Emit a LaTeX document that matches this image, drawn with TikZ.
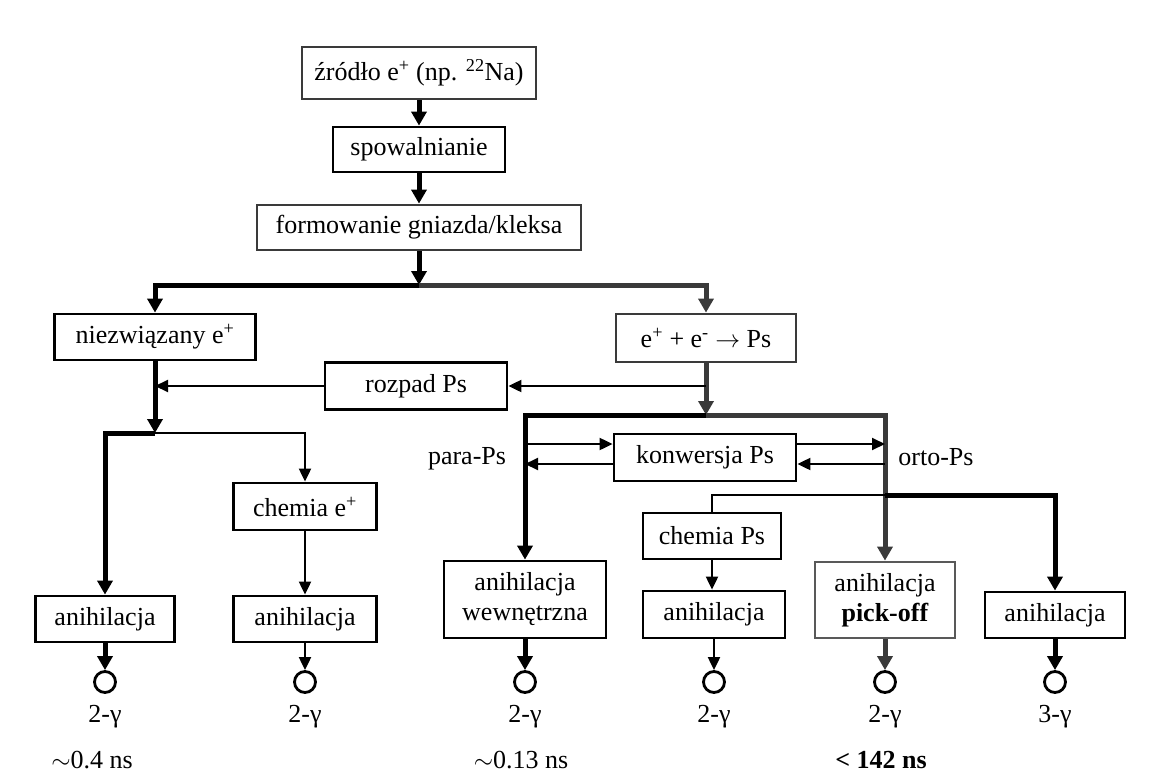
\documentclass[tikz,border=0pt]{standalone}
\usepackage{fontspec}
\setmainfont{Liberation Serif}
\usetikzlibrary{arrows.meta, positioning}
\definecolor{scangray}{HTML}{3A3A3A}

\tikzset{
  txt/.style={font=\fontsize{26}{30}\selectfont},
  box/.style={txt, draw, line width=2.8pt, inner sep=0pt, minimum height=47pt, align=center},
  thinflow/.style={line width=2pt, -{Triangle[length=13pt,width=12pt]}},
  thickflow/.style={line width=5pt, -{Triangle[length=14pt,width=15pt]}},
  grayflow/.style={thickflow, scangray},
  photon/.style={circle, draw, line width=2.8pt, minimum size=21pt, inner sep=0pt}
}

\begin{document}
\begin{tikzpicture}[x=1pt, y=-1pt]
\useasboundingbox (0,0) rectangle (1163,782);

% glowny lancuch
\node[box, draw=scangray, minimum width=234pt, minimum height=52pt] (src) at (419,73) {źródło e\textsuperscript{+} (np. \textsuperscript{22}Na)};
\node[box, minimum width=172pt, minimum height=45pt] (slow) at (419,149.5) {spowalnianie};
\node[box, draw=scangray, minimum width=324pt, minimum height=45pt] (spur) at (419,227.5) {formowanie gniazda/kleksa};

\node[box, minimum width=201pt, minimum height=46pt] (free) at (155,337) {niezwiązany e\textsuperscript{+}};
\node[box, draw=scangray, minimum width=180pt, minimum height=48pt] (psform) at (706,338) {e\textsuperscript{+} + e\textsuperscript{-} $\rightarrow$ Ps};
\node[box, minimum width=182pt] (decay) at (416,386) {rozpad Ps};
\node[box, minimum width=182pt] (conv) at (705,457.5) {konwersja Ps};
\node[txt] (para) at (467,459) {para-Ps};
\node[txt] (ortho) at (936,457) {orto-Ps};

\node[box, minimum width=143pt] (chemE) at (305,506.5) {chemia e\textsuperscript{+}};
\node[box, minimum width=138pt, minimum height=46pt] (chemPs) at (712,536) {chemia Ps};

% anihilacje
\node[box, minimum width=139pt, minimum height=46pt] (ann1) at (105,619) {anihilacja};
\node[box, minimum width=143pt, minimum height=46pt] (ann2) at (305,619) {anihilacja};
\node[box, minimum width=162pt, minimum height=77pt] (intr) at (525,599.5) {anihilacja\\wewnętrzna};
\node[box, minimum width=142pt] (ann3) at (714,614.5) {anihilacja};
\node[box, draw=black!65, minimum width=140pt, minimum height=76pt] (pick) at (885,600) {anihilacja\\\textbf{pick-off}};
\node[box, minimum width=140pt, minimum height=46pt] (ann4) at (1055,615) {anihilacja};

\coordinate (fork) at (419,285);
\coordinate (ptop) at (706,415);
\coordinate (ljoin) at (155,433);
\coordinate (paraUp) at (525,444);
\coordinate (paraDn) at (525,464);
\coordinate (orthoUp) at (885,444);
\coordinate (orthoDn) at (885,464);
\coordinate (obranch) at (885,495);

\draw[thickflow] (src.south) -- (slow.north);
\draw[thickflow] (slow.south) -- (spur.north);
\draw[thickflow] (spur.south) -- (fork);
\draw[thickflow] (fork) -| (free.north);
\draw[grayflow] (fork) -| (psform.north);

% rozpad Ps
\draw[grayflow] (psform.south) -- (ptop);
\draw[thinflow] (psform.south |- decay.east) -- (decay.east);
\draw[thinflow] (decay.west) -- (decay.west -| free.south);

% e+ swobodny
\draw[thickflow] (free.south) -- (ljoin);
\draw[thickflow] (ljoin) -| (ann1.north);
\draw[thinflow] (ljoin) -| (chemE.north);
\draw[thinflow] (chemE.south) -- (ann2.north);

% para / orto
\draw[thickflow] (ptop) -| (intr.north);
\draw[grayflow] (ptop) -| (pick.north);
\draw[thinflow] (paraUp) -- (paraUp -| conv.west);
\draw[thinflow] (paraDn -| conv.west) -- (paraDn);
\draw[thinflow] (orthoUp -| conv.east) -- (orthoUp);
\draw[thinflow] (orthoDn) -- (orthoDn -| conv.east);
\draw[line width=2pt] (obranch) -| (chemPs.north);
\draw[thickflow] (obranch) -| (ann4.north);
\draw[thinflow] (chemPs.south) -- (chemPs.south |- ann3.north);

% kwanty gamma
\foreach \b/\flow/\n in {ann1/thickflow/2, ann2/thinflow/2, intr/thickflow/2, ann3/thinflow/2, pick/grayflow/2, ann4/thickflow/3} {
  \node[photon] (\b-out) at (\b.south |- 0,682) {};
  \draw[\flow] (\b.south) -- (\b-out.north);
  \node[txt] (\b-n) at (\b.south |- 0,717) {\n-γ};
}

\node[txt] (t1) at (92,760) {$\sim$0.4 ns};
\node[txt] (t2) at (521,760) {$\sim$0.13 ns};
\node[txt] (t3) at (881,760) {\textbf{< 142 ns}};
\end{tikzpicture}
\end{document}
